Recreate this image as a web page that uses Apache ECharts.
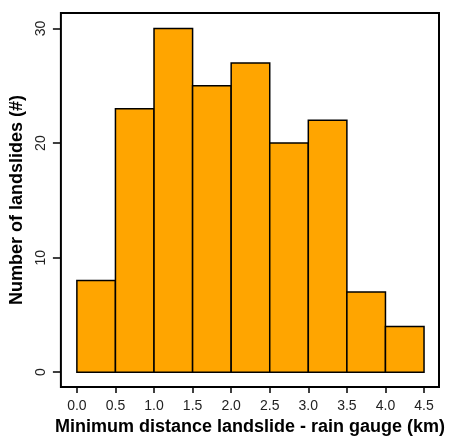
<!DOCTYPE html>
<html>
<head>
<meta charset="utf-8">
<script src="https://cdn.jsdelivr.net/npm/echarts@6/dist/echarts.min.js"></script>
<style>
html, body { margin: 0; padding: 0; background: #fff; }
#chart { width: 451px; height: 441px; }
</style>
</head>
<body>
<div id="chart"></div>
<script>
// histogram bins (km) and counts
let binStarts = [0.0, 0.5, 1.0, 1.5, 2.0, 2.5, 3.0, 3.5, 4.0];
let binEnds = [0.5, 1.0, 1.5, 2.0, 2.5, 3.0, 3.5, 4.0, 4.5];
let counts = [8, 23, 30, 25, 27, 20, 22, 7, 4];
let xTicks = [0.0, 0.5, 1.0, 1.5, 2.0, 2.5, 3.0, 3.5, 4.0, 4.5];
let yTicks = [0, 10, 20, 30];

let C = {};

C.init = function(){
    let data = binStarts.map((s, i) => [s, binEnds[i], counts[i]]);
    V.renderHistogram("chart", data);
}

let V = {};

V.renderHistogram = function(htmlId, data){
    var dom = document.getElementById(htmlId);
    var myChart = echarts.init(dom, null, { renderer: 'canvas' });
    var labelStyle = { color: '#222', fontSize: 14, fontFamily: 'Liberation Sans' };
    var nameStyle = { color: '#000', fontSize: 18, fontWeight: 'bold', fontFamily: 'Liberation Sans' };

    var option = {
      animation: false,
      grid: {
        left: 60, top: 13, right: 12, bottom: 50,
        show: true, borderColor: '#000', borderWidth: 2, backgroundColor: 'transparent'
      },
      xAxis: {
        type: 'value',
        min: -0.207, max: 4.694,
        splitLine: { show: false },
        axisLine: { show: false, onZero: false },
        axisTick: { show: true, inside: false, length: 6, customValues: xTicks, lineStyle: { color: '#000', width: 1.5 } },
        axisLabel: { customValues: xTicks, margin: 12, formatter: v => v.toFixed(1), ...labelStyle },
        name: 'Minimum distance landslide - rain gauge (km)',
        nameLocation: 'middle',
        nameGap: 30,
        nameTextStyle: nameStyle
      },
      yAxis: {
        type: 'value',
        min: -1.3, max: 31.36,
        splitLine: { show: false },
        axisLine: { show: false, onZero: false },
        axisTick: { show: true, inside: false, length: 8, customValues: yTicks, lineStyle: { color: '#000', width: 1.5 } },
        axisLabel: { customValues: yTicks, margin: 13, rotate: 90, ...labelStyle },
        name: 'Number of landslides (#)',
        nameLocation: 'middle',
        nameGap: 32,
        nameTextStyle: nameStyle
      },
      series: [{
        type: 'custom',
        data: data,
        renderItem: function(params, api){
          var p0 = api.coord([api.value(0), 0]);
          var p1 = api.coord([api.value(1), api.value(2)]);
          return {
            type: 'rect',
            shape: { x: p0[0], y: p1[1], width: p1[0] - p0[0], height: p0[1] - p1[1] },
            style: { fill: '#FFA500', stroke: '#000', lineWidth: 1.5 }
          };
        }
      }]
    };

    myChart.setOption(option);
    window.addEventListener('resize', myChart.resize);
}

C.init();
</script>
</body>
</html>
